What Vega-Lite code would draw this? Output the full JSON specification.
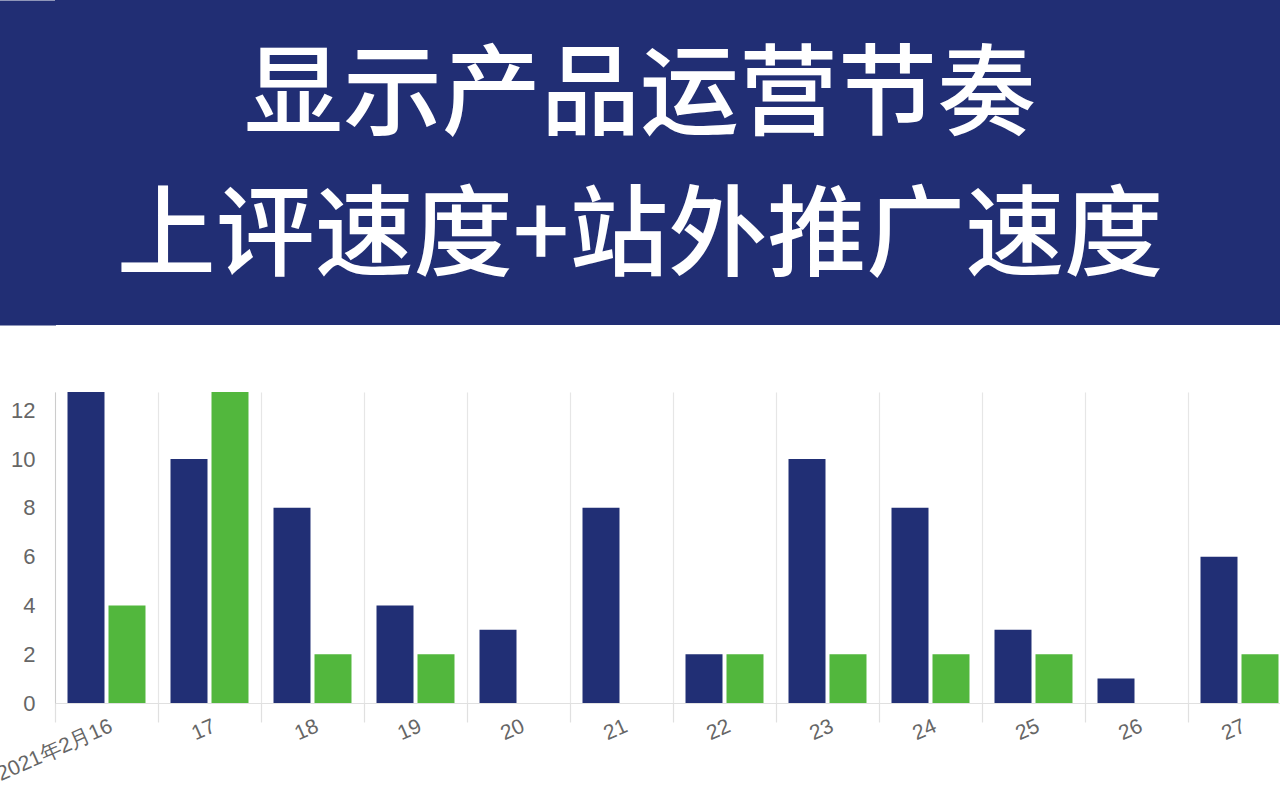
{
  "$schema": "https://vega.github.io/schema/vega-lite/v6.json",
  "autosize": {"type": "none"},
  "padding": {"left": 55, "top": 0, "right": 1225, "bottom": 800},
  "background": "white",
  "spacing": 67,
  "config": {"view": {"stroke": null}, "font": "Liberation Sans"},
  "datasets": {
    "title": [
      {"line": "显示产品运营节奏"},
      {"line": "上评速度+站外推广速度"}
    ],
    "bars": [
      {"date": "2021年2月16", "series": "上评", "value": 14},
      {"date": "2021年2月16", "series": "站外推广", "value": 4},
      {"date": "17", "series": "上评", "value": 10},
      {"date": "17", "series": "站外推广", "value": 14},
      {"date": "18", "series": "上评", "value": 8},
      {"date": "18", "series": "站外推广", "value": 2},
      {"date": "19", "series": "上评", "value": 4},
      {"date": "19", "series": "站外推广", "value": 2},
      {"date": "20", "series": "上评", "value": 3},
      {"date": "21", "series": "上评", "value": 8},
      {"date": "22", "series": "上评", "value": 2},
      {"date": "22", "series": "站外推广", "value": 2},
      {"date": "23", "series": "上评", "value": 10},
      {"date": "23", "series": "站外推广", "value": 2},
      {"date": "24", "series": "上评", "value": 8},
      {"date": "24", "series": "站外推广", "value": 2},
      {"date": "25", "series": "上评", "value": 3},
      {"date": "25", "series": "站外推广", "value": 2},
      {"date": "26", "series": "上评", "value": 1},
      {"date": "27", "series": "上评", "value": 6},
      {"date": "27", "series": "站外推广", "value": 2}
    ]
  },
  "vconcat": [
    {
      "width": 1225,
      "height": 325,
      "view": {"fill": "#212e74", "stroke": null},
      "data": {"name": "title"},
      "mark": {"type": "text", "font": "Noto Sans CJK SC", "fontWeight": 500, "fontSize": 99, "color": "#ffffff", "align": "center", "baseline": "middle", "dx": -27.5, "dy": 5},
      "encoding": {
        "y": {"field": "line", "type": "nominal", "sort": null,
              "scale": {"type": "point", "padding": 0.66},
              "axis": {"title": null, "labels": false, "ticks": false, "grid": false, "domain": true, "domainWidth": 56, "domainColor": "#212e74", "domainCap": "butt", "offset": 27.5}},
        "text": {"field": "line"}
      }
    },
    {
      "width": 1236,
      "height": 311,
      "data": {"name": "bars"},
      "mark": {"type": "bar", "clip": true},
      "encoding": {
        "x": {"field": "date", "type": "nominal", "sort": null,
              "scale": {"paddingInner": 0, "paddingOuter": 0},
              "axis": {"title": null, "tickBand": "extent", "grid": true, "gridColor": "#e6e6e6", "gridWidth": 1.2,
                       "domain": true, "domainColor": "#e0e0e0", "domainWidth": 1.2,
                       "ticks": true, "tickColor": "#e0e0e0", "tickSize": 19, "tickWidth": 1.2,
                       "labelAngle": -24, "labelAlign": "right", "labelBaseline": "top", "labelPadding": -7,
                       "labelFontSize": 21, "labelColor": "#666666", "labelOverlap": false, "labelBound": false, "labelFlush": false}},
        "xOffset": {"field": "series", "type": "nominal", "sort": null,
                    "scale": {"paddingInner": 0.0976, "paddingOuter": 0.305}},
        "y": {"field": "value", "type": "quantitative",
              "scale": {"domain": [0, 12.75], "nice": false},
              "axis": {"title": null, "values": [0, 2, 4, 6, 8, 10, 12], "grid": false, "ticks": false, "tickSize": 0,
                       "domain": true, "domainColor": "#cccccc", "labelPadding": 20, "labelFontSize": 22, "labelColor": "#666666"}},
        "color": {"field": "series", "type": "nominal", "sort": null,
                  "scale": {"range": ["#212f75", "#52b73d"]}, "legend": null}
      }
    }
  ]
}
